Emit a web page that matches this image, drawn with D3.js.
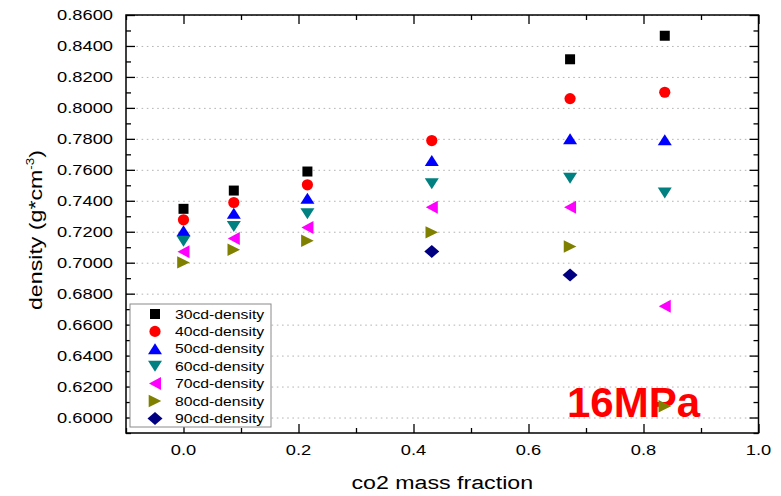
<!DOCTYPE html>
<html>
<head>
<meta charset="utf-8">
<script src="https://cdn.jsdelivr.net/npm/d3@7"></script>
<style>
  html, body { margin: 0; padding: 0; background: #fff; }
  svg { display: block; }
  text { font-family: Arial, "Liberation Sans", sans-serif; }
</style>
</head>
<body>
<svg id="chart" width="781" height="496"></svg>
<script>
// CO2 mass fraction at which each density was measured
const massFraction = [0.0, 0.0875, 0.2155, 0.4318, 0.6723, 0.837];

// density (g/cm^3) per temperature series; null = not measured
const density30 = [0.7348, 0.7466, 0.7589, null, 0.8314, 0.8466];
const density40 = [0.7277, 0.7389, 0.7503, 0.7789, 0.8060, 0.8101];
const density50 = [0.7206, 0.7320, 0.7417, 0.7660, 0.7800, 0.7794];
const density60 = [0.7138, 0.7234, 0.7316, 0.7510, 0.7546, 0.7450];
const density70 = [0.7071, 0.7157, 0.7228, 0.7359, 0.7359, 0.6718];
const density80 = [0.7002, 0.7084, 0.7142, 0.7196, 0.7105, 0.6073];
const density90 = [null, null, null, 0.7073, 0.6921, null];

const seriesNames = ["30cd-density", "40cd-density", "50cd-density", "60cd-density",
                     "70cd-density", "80cd-density", "90cd-density"];
const seriesValues = [density30, density40, density50, density60, density70, density80, density90];

const xTickLabels = [0.0, 0.2, 0.4, 0.6, 0.8, 1.0];
const yTickLabels = [0.60, 0.62, 0.64, 0.66, 0.68, 0.70, 0.72, 0.74, 0.76, 0.78, 0.80, 0.82, 0.84, 0.86];

const pressureLabel = "16MPa";

// ---- styling ----
const colors = ["#000000", "#ff0000", "#0000ff", "#008080", "#ff00ff", "#808000", "#000080"];
const shapes = ["square", "circle", "up", "down", "left", "right", "diamond"];
const textStretch = 1.22;

function symbolPath(shape) {
  switch (shape) {
    case "square":  return "M-5,-5H5V5H-5Z";
    case "circle":  return "M-5.6,0A5.6,5.6 0 1,0 5.6,0A5.6,5.6 0 1,0 -5.6,0Z";
    case "up":      return "M0,-5.5L7,5.5H-7Z";
    case "down":    return "M0,5.5L7,-5.5H-7Z";
    case "left":    return "M-6,0L6,-6.5V6.5Z";
    case "right":   return "M6.3,0L-6.3,-6.2V6.2Z";
    case "diamond": return "M0,-6.5L7.5,0L0,6.5L-7.5,0Z";
  }
}

const svg = d3.select("#chart");
const plot = { left: 126, right: 758.5, top: 15, bottom: 433 };

const x = d3.scaleLinear().domain([-0.1, 1.0]).range([plot.left, plot.right]);
const y = d3.scaleLinear().domain([0.59, 0.86]).range([plot.bottom, plot.top]);

// horizontal dotted grid at the labelled density values
svg.append("g")
  .attr("transform", `translate(${plot.left},0)`)
  .call(d3.axisLeft(y).tickValues(yTickLabels).tickSize(-(plot.right - plot.left)).tickFormat(""))
  .call(g => g.select(".domain").remove())
  .call(g => g.selectAll("line").attr("stroke", "#b4b4b4").attr("stroke-width", 1).attr("stroke-dasharray", "1.6,3.6"));

// pressure annotation
svg.append("text")
  .attr("x", 567).attr("y", 417)
  .attr("font-size", 42).attr("font-weight", "bold")
  .attr("fill", "#ff0000")
  .text(pressureLabel);

// markers
seriesValues.forEach((vals, si) => {
  const pts = vals.map((v, i) => ({ x: massFraction[i], y: v })).filter(d => d.y !== null);
  svg.append("g").selectAll("path").data(pts).join("path")
    .attr("d", symbolPath(shapes[si]))
    .attr("transform", d => `translate(${x(d.x)},${y(d.y)})`)
    .attr("fill", colors[si]);
});

// minor / major ticks pointing inward on all four sides
const minorX = d3.range(-0.1, 1.0001, 0.1).map(v => +v.toFixed(2)).filter(v => !xTickLabels.some(t => Math.abs(t - v) < 1e-6));
const minorY = d3.range(0.59, 0.8601, 0.01).map(v => +v.toFixed(3)).filter(v => !yTickLabels.some(t => Math.abs(t - v) < 1e-6));

function tickStyle(g) {
  g.select(".domain").remove();
  g.selectAll("line").attr("stroke", "#000").attr("stroke-width", 1.3);
}

const fmtX = d3.format(".1f");
const fmtY = d3.format(".4f");

// bottom
svg.append("g").attr("transform", `translate(0,${plot.bottom})`)
  .call(d3.axisBottom(x).tickValues(xTickLabels).tickSizeInner(-9).tickSizeOuter(0).tickFormat(""))
  .call(tickStyle);
svg.append("g").attr("transform", `translate(0,${plot.bottom})`)
  .call(d3.axisBottom(x).tickValues(minorX).tickSizeInner(-5).tickSizeOuter(0).tickFormat(""))
  .call(tickStyle);
// top
svg.append("g").attr("transform", `translate(0,${plot.top})`)
  .call(d3.axisTop(x).tickValues(xTickLabels).tickSizeInner(-9).tickSizeOuter(0).tickFormat(""))
  .call(tickStyle);
svg.append("g").attr("transform", `translate(0,${plot.top})`)
  .call(d3.axisTop(x).tickValues(minorX).tickSizeInner(-5).tickSizeOuter(0).tickFormat(""))
  .call(tickStyle);
// left
svg.append("g").attr("transform", `translate(${plot.left},0)`)
  .call(d3.axisLeft(y).tickValues(yTickLabels).tickSizeInner(-9).tickSizeOuter(0).tickFormat(""))
  .call(tickStyle);
svg.append("g").attr("transform", `translate(${plot.left},0)`)
  .call(d3.axisLeft(y).tickValues(minorY).tickSizeInner(-5).tickSizeOuter(0).tickFormat(""))
  .call(tickStyle);
// right
svg.append("g").attr("transform", `translate(${plot.right},0)`)
  .call(d3.axisRight(y).tickValues(yTickLabels).tickSizeInner(-9).tickSizeOuter(0).tickFormat(""))
  .call(tickStyle);
svg.append("g").attr("transform", `translate(${plot.right},0)`)
  .call(d3.axisRight(y).tickValues(minorY).tickSizeInner(-5).tickSizeOuter(0).tickFormat(""))
  .call(tickStyle);

// frame
svg.append("rect")
  .attr("x", plot.left).attr("y", plot.top)
  .attr("width", plot.right - plot.left).attr("height", plot.bottom - plot.top)
  .attr("fill", "none").attr("stroke", "#000").attr("stroke-width", 1.5);

// tick labels (wide lettering)
svg.append("g").selectAll("text").data(xTickLabels).join("text")
  .attr("transform", d => `translate(${x(d)},455) scale(${textStretch},1)`)
  .attr("text-anchor", "middle")
  .attr("font-size", 15)
  .text(d => fmtX(d));

svg.append("g").selectAll("text").data(yTickLabels).join("text")
  .attr("transform", d => `translate(113,${y(d)}) scale(${textStretch},1)`)
  .attr("text-anchor", "end")
  .attr("dy", "0.36em")
  .attr("font-size", 15)
  .text(d => fmtY(d));

// axis titles
svg.append("text")
  .attr("transform", `translate(${(plot.left + plot.right) / 2},489) scale(${textStretch},1)`)
  .attr("text-anchor", "middle")
  .attr("font-size", 19)
  .text("co2 mass fraction");

const yTitle = svg.append("text")
  .attr("transform", `translate(42,230) rotate(-90) scale(${textStretch},1)`)
  .attr("text-anchor", "middle")
  .attr("font-size", 19);
yTitle.append("tspan").text("density (g*cm");
yTitle.append("tspan").attr("font-size", 11).attr("dy", "-0.75em").text("-3");
yTitle.append("tspan").attr("dy", "0.45em").text(")");

// legend
const legend = { x: 130, y: 304, w: 141, h: 123, row0: 314, step: 17.4 };
svg.append("rect")
  .attr("x", legend.x).attr("y", legend.y).attr("width", legend.w).attr("height", legend.h)
  .attr("fill", "#fff").attr("stroke", "#8a8a8a").attr("stroke-width", 1);

const items = svg.append("g").selectAll("g").data(seriesNames).join("g")
  .attr("transform", (d, i) => `translate(0,${legend.row0 + i * legend.step})`);
items.append("path")
  .attr("d", (d, i) => symbolPath(shapes[i]))
  .attr("transform", "translate(155,0)")
  .attr("fill", (d, i) => colors[i]);
items.append("text")
  .attr("transform", `translate(175,0) scale(1.26,1)`)
  .attr("dy", "0.36em")
  .attr("font-size", 12.5)
  .text(d => d);
</script>
</body>
</html>
